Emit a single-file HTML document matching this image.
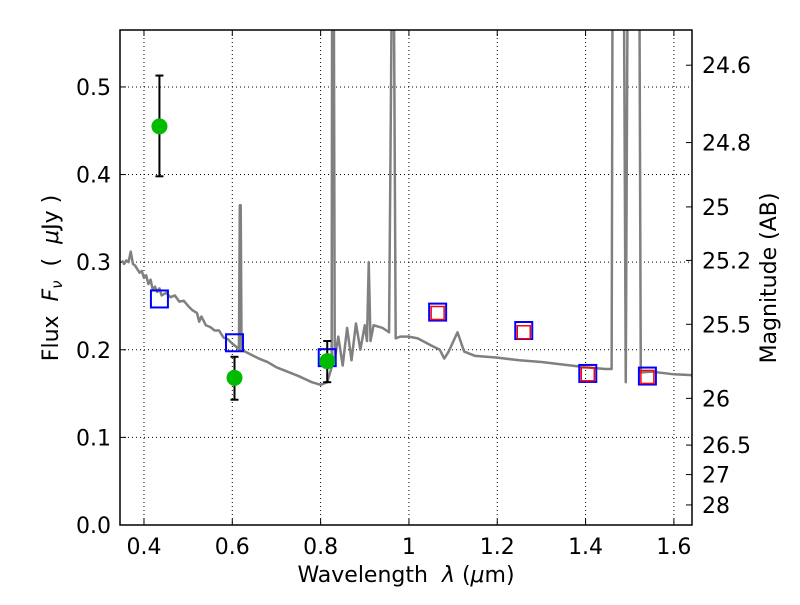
<!DOCTYPE html>
<html><head><meta charset="utf-8"><style>
body{margin:0;background:#fff}
svg text{font-family:"DejaVu Sans","Liberation Sans",sans-serif;fill:#000;white-space:pre}
</style></head><body>
<svg id="c" width="800" height="600" xmlns="http://www.w3.org/2000/svg"></svg>
<script>
const specWave=[0.35,0.355,0.36,0.365,0.37,0.375,0.38,0.39,0.395,0.40,0.405,0.41,0.415,0.42,0.425,0.43,0.435,0.44,0.45,0.46,0.47,0.48,0.49,0.50,0.51,0.52,0.525,0.53,0.54,0.55,0.56,0.57,0.58,0.59,0.60,0.61,0.615,0.617,0.619,0.621,0.64,0.66,0.68,0.70,0.72,0.75,0.78,0.80,0.815,0.825,0.826,0.83,0.832,0.84,0.85,0.86,0.87,0.88,0.89,0.90,0.905,0.909,0.913,0.92,0.94,0.955,0.961,0.966,0.97,0.98,1.0,1.02,1.05,1.07,1.08,1.09,1.11,1.125,1.15,1.2,1.25,1.3,1.35,1.40,1.445,1.459,1.461,1.487,1.491,1.495,1.497,1.518,1.522,1.525,1.55,1.6,1.64];
const specFlux=[0.302,0.298,0.302,0.300,0.312,0.298,0.296,0.288,0.290,0.282,0.285,0.275,0.280,0.268,0.272,0.266,0.270,0.262,0.265,0.260,0.262,0.255,0.256,0.250,0.245,0.242,0.232,0.238,0.228,0.226,0.222,0.222,0.214,0.212,0.207,0.203,0.200,0.365,0.365,0.200,0.195,0.190,0.186,0.180,0.176,0.170,0.163,0.160,0.163,0.180,0.60,0.60,0.190,0.215,0.182,0.225,0.188,0.230,0.200,0.228,0.210,0.300,0.210,0.228,0.225,0.220,0.60,0.60,0.213,0.215,0.215,0.213,0.205,0.200,0.190,0.198,0.220,0.198,0.193,0.191,0.188,0.186,0.183,0.180,0.178,0.178,0.60,0.60,0.163,0.60,0.60,0.60,0.60,0.174,0.175,0.172,0.171];
const photWave=[0.435,0.605,0.815];
const photFlux=[0.455,0.168,0.187];
const photLo=[0.398,0.143,0.163];
const photHi=[0.513,0.192,0.210];
const modWave=[0.435,0.605,0.815,1.065,1.26,1.405,1.54];
const modFlux=[0.258,0.208,0.191,0.243,0.222,0.173,0.170];
const irWave=[1.065,1.26,1.405,1.54];
const irFlux=[0.242,0.220,0.172,0.169];
const xTicks=[0.4,0.6,0.8,1.0,1.2,1.4,1.6];
const xTickLabels=["0.4","0.6","0.8","1","1.2","1.4","1.6"];
const yTicks=[0,0.1,0.2,0.3,0.4,0.5];
const yTickLabels=["0.0","0.1","0.2","0.3","0.4","0.5"];
const magTicks=[24.6,24.8,25,25.2,25.5,26,26.5,27,28];
const magLabels=["24.6","24.8","25","25.2","25.5","26","26.5","27","28"];

const L=120,R=692,T=30,B=525,X0=0.3457,X1=1.641,Y0=0,Y1=0.565;
const sx=v=>L+(v-X0)/(X1-X0)*(R-L);
const sy=v=>B-(v-Y0)/(Y1-Y0)*(B-T);
const svg=document.getElementById('c');
const NS="http://www.w3.org/2000/svg";
function mk(tag,attrs,parent){const e=document.createElementNS(NS,tag);for(const k in attrs)e.setAttribute(k,attrs[k]);(parent||svg).appendChild(e);return e;}
const defs=mk('defs',{});const cp=mk('clipPath',{id:'clip'},defs);mk('rect',{x:L,y:T,width:R-L,height:B-T},cp);

xTicks.forEach((v,i)=>{
 const g=mk('line',{x1:sx(v),x2:sx(v),y1:T,y2:B,stroke:'#000','stroke-width':1,'stroke-dasharray':'1,3'});
 
 
 mk('line',{x1:sx(v),x2:sx(v),y1:B,y2:B-6,stroke:'#000'});
 mk('line',{x1:sx(v),x2:sx(v),y1:T,y2:T+6,stroke:'#000'});
 const t=mk('text',{x:sx(v),y:B+29,'text-anchor':'middle','font-size':22});t.textContent=xTickLabels[i];
 
 
});
yTicks.forEach((v,i)=>{
 if(v>0){const g=mk('line',{x1:L,x2:R,y1:sy(v),y2:sy(v),stroke:'#000','stroke-width':1,'stroke-dasharray':'1,3'});
 
 }
 mk('line',{x1:L,x2:L+6,y1:sy(v),y2:sy(v),stroke:'#000'});
 const t=mk('text',{x:L-9,y:sy(v)+8,'text-anchor':'end','font-size':22});t.textContent=yTickLabels[i];
 
 
});
magTicks.forEach((m,i)=>{
 const f=Math.pow(10,(23.9-m)/2.5);const y=sy(f);
 mk('line',{x1:R,x2:R-6,y1:y,y2:y,stroke:'#000'});
 const t=mk('text',{x:R+10,y:y+8,'font-size':22});t.textContent=magLabels[i];
 
 
});

const g=mk('g',{'clip-path':'url(#clip)'});
const sp=mk('polyline',{points:specWave.map((w,i)=>sx(w)+','+sy(specFlux[i])).join(' '),fill:'none',stroke:'#808080','stroke-width':2.5,'stroke-linejoin':'round'},g);


modWave.forEach((w,i)=>{
 const r=mk('rect',{x:sx(w)-8.5,y:sy(modFlux[i])-8.5,width:17,height:17,fill:'none',stroke:'#0000ff','stroke-width':2},g);
 
 
});
irWave.forEach((w,i)=>{
 const r=mk('rect',{x:sx(w)-6.5,y:sy(irFlux[i])-6.5,width:13,height:13,fill:'none',stroke:'#ff0000','stroke-width':1.5},g);
 
 
});
photWave.forEach((w,i)=>{
 const x=sx(w);
 mk('line',{x1:x,x2:x,y1:sy(photLo[i]),y2:sy(photHi[i]),stroke:'#000','stroke-width':2},g);
 mk('line',{x1:x-4,x2:x+4,y1:sy(photLo[i]),y2:sy(photLo[i]),stroke:'#000','stroke-width':2},g);
 mk('line',{x1:x-4,x2:x+4,y1:sy(photHi[i]),y2:sy(photHi[i]),stroke:'#000','stroke-width':2},g);
 const c=mk('circle',{cx:x,cy:sy(photFlux[i]),r:8,fill:'#00bb00'},g);
 
 
});
const fr=mk('rect',{x:L,y:T,width:R-L,height:B-T,fill:'none',stroke:'#000','stroke-width':1.5});


</script>
<svg width="800" height="600" style="position:absolute;left:0;top:0" xmlns="http://www.w3.org/2000/svg">
<text x="406" y="582" text-anchor="middle" font-size="22">Wavelength  <tspan font-style="italic">λ</tspan> (<tspan font-style="italic">μ</tspan>m)</text>
<text transform="translate(58,278) rotate(-90)" text-anchor="middle" font-size="22">Flux  <tspan font-style="italic">F</tspan><tspan font-style="italic" font-size="15" dy="4">ν</tspan><tspan dy="-4">  (  </tspan><tspan font-style="italic">μ</tspan>Jy )</text>
<text transform="translate(776,278) rotate(-90)" text-anchor="middle" font-size="22">Magnitude (AB)</text>
</svg>
</body></html>
